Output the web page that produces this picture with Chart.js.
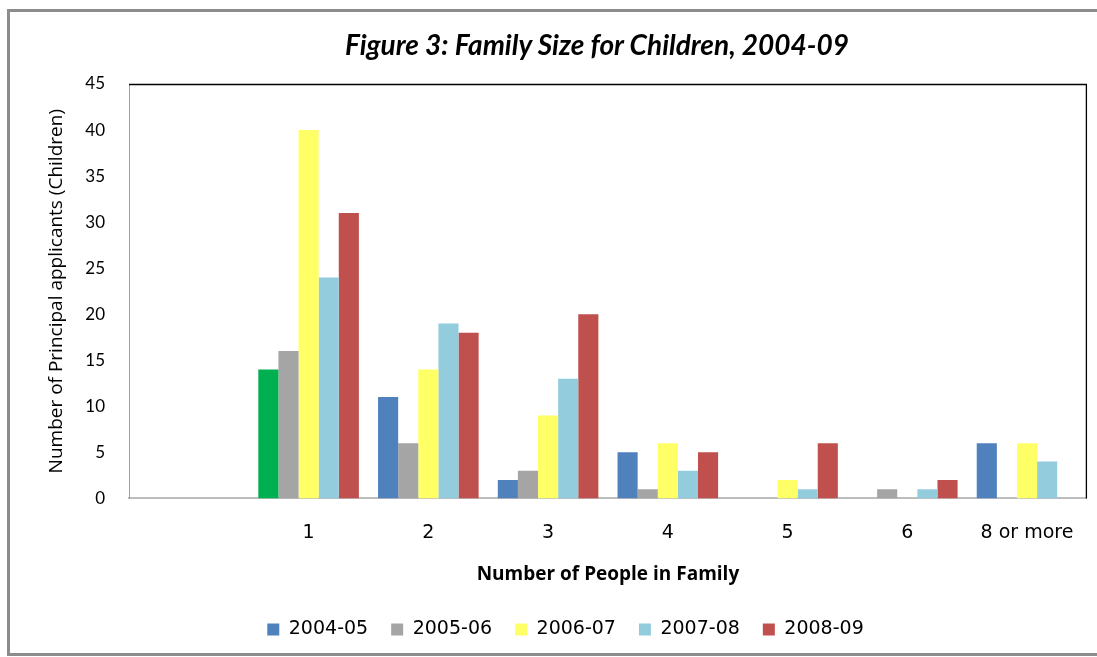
<!DOCTYPE html>
<html>
<head>
<meta charset="utf-8">
<script src="https://cdn.jsdelivr.net/npm/chart.js@4/dist/chart.umd.min.js"></script>
<style>
  html, body { margin: 0; padding: 0; background: #fff; overflow: hidden; }
  #wrap { position: relative; width: 1097px; height: 657px; overflow: hidden; }
  #title { position: absolute; left: 0; width: 1194px; top: 27px; text-align: center;
           font: italic bold 28px Lato, sans-serif; color: #000; }
  #chart { position: absolute; left: 0; top: 0; }
</style>
</head>
<body>
<div id="wrap">
  <canvas id="chart" width="1097" height="657"></canvas>
  <div id="title">Figure 3: Family Size for Children, 2004-09</div>
</div>
<script>
// chart values
const familySizes = ['', '1', '2', '3', '4', '5', '6', '8 or more'];
const yearLabels = ['2004-05', '2005-06', '2006-07', '2007-08', '2008-09'];
const y2004 = [null, 14, 11, 2, 5, 0, 0, 6];
const y2005 = [null, 16, 6, 3, 1, 0, 1, 0];
const y2006 = [null, 40, 14, 9, 6, 2, 0, 6];
const y2007 = [null, 24, 19, 13, 3, 1, 1, 4];
const y2008 = [null, 31, 18, 20, 5, 6, 2, 0];
const yTicks = [0, 5, 10, 15, 20, 25, 30, 35, 40, 45];

const colours = ['#4f81bd', '#a5a5a5', '#ffff66', '#93cddd', '#c0504d'];
const seriesValues = [y2004, y2005, y2006, y2007, y2008];

// gray outer frame (left, top, bottom) like the pasted Excel chart
const outerFrame = {
  id: 'outerFrame',
  beforeDraw(chart) {
    const c = chart.ctx;
    c.save();
    c.strokeStyle = '#8c8c8c';
    c.lineWidth = 3;
    c.beginPath();
    c.moveTo(chart.width + 5, 10.5);
    c.lineTo(8.5, 10.5);
    c.lineTo(8.5, 654.5);
    c.lineTo(chart.width + 5, 654.5);
    c.stroke();
    c.restore();
  }
};

// top & right frame of plot area (Excel style)
const plotFrame = {
  id: 'plotFrame',
  afterDraw(chart) {
    const a = chart.chartArea, c = chart.ctx;
    c.save();
    c.strokeStyle = '#000';
    c.lineWidth = 1.3;
    c.beginPath();
    c.moveTo(a.left, a.top + 0.5);
    c.lineTo(a.right - 0.5, a.top + 0.5);
    c.lineTo(a.right - 0.5, a.bottom);
    c.stroke();
    c.restore();
  }
};

const datasets = yearLabels.map(function(name, i) {
  return {
    label: name,
    data: seriesValues[i],
    backgroundColor: i === 0
      ? function(ctx) { return ctx.dataIndex === 1 ? '#00b050' : colours[0]; }
      : colours[i],
    borderWidth: 0,
    categoryPercentage: 0.84,
    barPercentage: 1.0
  };
});

new Chart(document.getElementById('chart'), {
  type: 'bar',
  data: { labels: familySizes, datasets: datasets },
  plugins: [outerFrame, plotFrame],
  options: {
    responsive: false,
    animation: false,
    layout: { padding: { left: 43, right: 9, top: 84, bottom: 8 } },
    plugins: {
      title: { display: false },
      tooltip: { enabled: false },
      legend: {
        position: 'bottom',
        labels: {
          color: '#000',
          font: { family: 'DejaVu Sans', size: 19 },
          boxWidth: 12,
          boxHeight: 12,
          padding: 23,
          generateLabels: function(chart) {
            return yearLabels.map(function(name, i) {
              return { text: name, fillStyle: colours[i], strokeStyle: colours[i], lineWidth: 0, datasetIndex: i };
            });
          }
        }
      }
    },
    scales: {
      x: {
        grid: { display: false, drawTicks: false },
        border: { display: true, color: '#bdbdbd', width: 2 },
        ticks: { color: '#000', font: { family: 'DejaVu Sans', size: 19 }, padding: 23, maxRotation: 0 },
        title: {
          display: true,
          text: 'Number of People in Family',
          color: '#000',
          font: { family: 'Open Sans', size: 19, weight: 'bold' },
          padding: { top: -4, bottom: 11 }
        }
      },
      y: {
        min: 0,
        max: 45,
        afterBuildTicks: function(scale) { scale.ticks = yTicks.map(function(v) { return { value: v }; }); },
        afterFit: function(scale) { scale.width = 86; },
        grid: { display: false, drawTicks: false },
        border: { display: true, color: '#a0a0a0', width: 1 },
        ticks: { color: '#000', font: { family: 'Lato', size: 17 }, padding: 24 },
        title: {
          display: true,
          text: 'Number of Principal applicants (Children)',
          color: '#000',
          font: { family: 'Open Sans', size: 19 },
          padding: { top: 2, bottom: 0 }
        }
      }
    }
  }
});
</script>
</body>
</html>
